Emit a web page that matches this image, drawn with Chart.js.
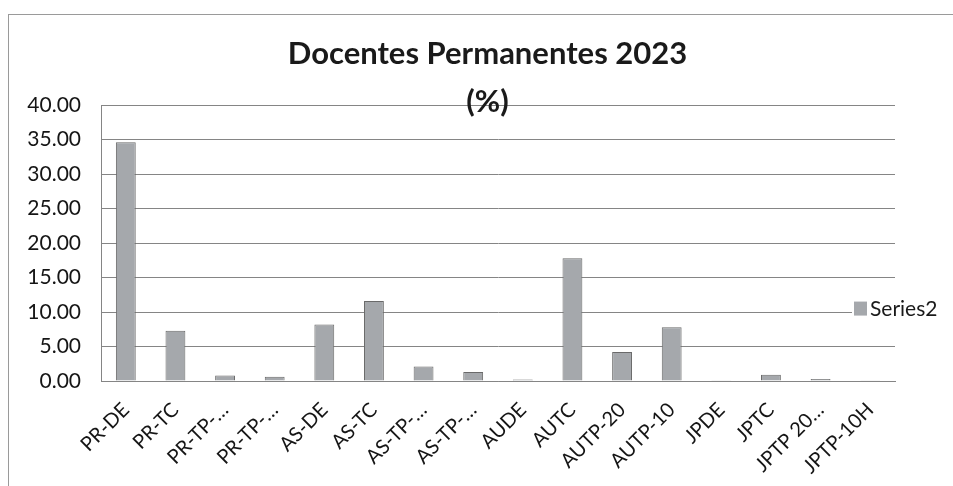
<!DOCTYPE html>
<html>
<head>
<meta charset="utf-8">
<script src="https://cdn.jsdelivr.net/npm/chart.js@4.4.1/dist/chart.umd.min.js"></script>
<style>
    html, body { margin: 0; padding: 0; background: #fff; overflow: hidden; }
    .wrap { position: relative; width: 953px; height: 486px; }
    .frame { position: absolute; left: 8px; top: 14px; width: 960px; height: 480px;
             border-left: 1px solid #9a9a9a; border-top: 1px solid #9a9a9a; }
    canvas { position: absolute; left: 0; top: 0; }
</style>
</head>
<body>
<div class="wrap">
    <div class="frame"></div>
    <canvas id="chart" width="953" height="486"></canvas>
</div>
<script>
// --- DADOS ---
const categories = ['PR-DE', 'PR-TC', 'PR-TP-…', 'PR-TP-…', 'AS-DE', 'AS-TC', 'AS-TP-…', 'AS-TP-…',
    'AUDE', 'AUTC', 'AUTP-20', 'AUTP-10', 'JPDE', 'JPTC', 'JPTP 20…', 'JPTP-10H'];
const series2 = [34.6, 7.3, 0.8, 0.6, 8.2, 11.6, 2.1, 1.3, 0.2, 17.8, 4.2, 7.8, 0.05, 0.9, 0.3, 0.05];
const yTicks = [0, 5, 10, 15, 20, 25, 30, 35, 40];

const FONT = 'Lato, Carlito, "Open Sans", sans-serif';
const gridColor = '#858585';

// legenda desenhada por cima da área do gráfico, como no original
const overlayLegend = {
    id: 'overlayLegend',
    afterDraw(chart) {
        const ds = chart.data.datasets[0];
        const { ctx, chartArea } = chart;
        const y = chart.scales.y.getPixelForValue(10.5);
        const x = chartArea.right - 41;
        ctx.save();
        ctx.fillStyle = '#fff';
        ctx.fillRect(x - 2, y - 11, 98, 22);
        ctx.fillStyle = ds.backgroundColor;
        ctx.fillRect(x, y - 7, 13, 14);
        ctx.fillStyle = '#1a1a1a';
        ctx.font = '21px ' + FONT;
        ctx.textBaseline = 'middle';
        ctx.fillText(ds.label, x + 16, y + 1);
        ctx.restore();
    }
};

new Chart(document.getElementById('chart'), {
    type: 'bar',
    data: {
        labels: categories,
        datasets: [{
            label: 'Series2', data: series2, yAxisID: 'y',
            backgroundColor: '#a5a8ac', borderColor: '#6a6a6a', borderWidth: 1,
            barPercentage: 0.4, categoryPercentage: 1
        }]
    },
    options: {
        responsive: false, animation: false,
        layout: { padding: { left: 22, right: 0, top: 30, bottom: 0 } },
        plugins: {
            legend: { display: false },
            tooltip: { enabled: false },
            title: {
                display: true,
                text: ['Docentes Permanentes 2023', '(%)'],
                color: '#1a1a1a',
                font: { family: FONT, size: 31, weight: 'bold', lineHeight: 1.55 },
                padding: { top: 0, bottom: -21 }
            }
        },
        scales: {
            x: {
                grid: { display: false },
                border: { display: true, color: gridColor },
                ticks: {
                    color: '#151515', font: { family: FONT, size: 20 },
                    minRotation: 45, maxRotation: 45, autoSkip: false, padding: 9
                },
                afterFit: s => { s.height = 105; }
            },
            y: {
                min: 0, max: 40,
                afterBuildTicks: s => { s.ticks = yTicks.map(v => ({ value: v })); },
                grid: { color: gridColor, drawTicks: false },
                border: { display: true, color: gridColor },
                ticks: {
                    color: '#151515', font: { family: FONT, size: 21 }, padding: 20,
                    callback: v => v.toFixed(2)
                },
                afterFit: s => { s.width = 79; }
            },
            y2: {
                position: 'right',
                grid: { display: false }, border: { display: false },
                ticks: { display: false },
                afterFit: s => { s.width = 58; }
            }
        }
    },
    plugins: [overlayLegend]
});
</script>
</body>
</html>
